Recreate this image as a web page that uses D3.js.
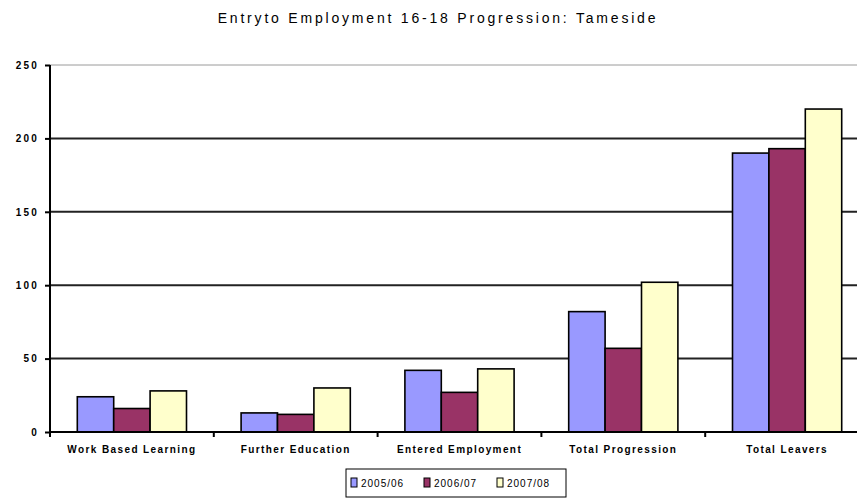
<!DOCTYPE html>
<html>
<head>
<meta charset="utf-8">
<script src="https://cdn.jsdelivr.net/npm/d3@7"></script>
<style>
  body { margin: 0; background: #fff; }
  svg { display: block; font-family: "Liberation Sans", Arial, sans-serif; }
</style>
</head>
<body>
<div id="chart"></div>
<script>
// data
var categories = ["Work Based Learning", "Further Education", "Entered Employment", "Total Progression", "Total Leavers"];
var seriesNames = ["2005/06", "2006/07", "2007/08"];
var values0506 = [24, 13, 42, 82, 190];
var values0607 = [16, 12, 27, 57, 193];
var values0708 = [28, 30, 43, 102, 220];
var seriesColors = ["#9999ff", "#993366", "#ffffcc"];
var yTicks = [0, 50, 100, 150, 200, 250];

var allSeries = [values0506, values0607, values0708];

var width = 857, height = 500;
var margin = { top: 65, right: -12, bottom: 68, left: 50 };
var plotW = width - margin.left - margin.right,
    plotH = height - margin.top - margin.bottom;

var svg = d3.select("#chart")
  .append("svg")
  .attr("width", width)
  .attr("height", height);

// title
svg.append("text")
  .attr("x", 438)
  .attr("y", 23)
  .attr("text-anchor", "middle")
  .style("font-size", "14px")
  .style("letter-spacing", "2.8px")
  .style("fill", "#000")
  .text("Entryto Employment 16-18 Progression: Tameside");

var g = svg.append("g")
  .attr("transform", "translate(" + margin.left + "," + margin.top + ")");

var x0 = d3.scaleBand()
  .domain(categories)
  .range([0, plotW])
  .padding(0);

// excel style gap width 150%: bar = band / 4.5
var barW = x0.bandwidth() / 4.5;
var x1 = d3.scaleBand()
  .domain(d3.range(seriesNames.length))
  .range([barW * 0.75, barW * 3.75])
  .padding(0);

var y = d3.scaleLinear()
  .domain([0, 250])
  .range([plotH, 0]);

// gridlines
g.selectAll(".grid")
  .data(yTicks.filter(function(d) { return d > 0; }))
  .enter()
  .append("line")
  .attr("class", "grid")
  .attr("x1", 0)
  .attr("x2", plotW)
  .attr("y1", function(d) { return y(d); })
  .attr("y2", function(d) { return y(d); })
  .attr("stroke", function(d) { return d == 250 ? "#9a9a9a" : "#222"; })
  .attr("stroke-width", function(d) { return d == 250 ? 1 : 2; });

// bars
var rows = categories.map(function(c, i) {
  return allSeries.map(function(s, j) { return { cat: c, s: j, value: s[i] }; });
});

g.selectAll(".group")
  .data(rows)
  .enter()
  .append("g")
  .attr("class", "group")
  .attr("transform", function(d, i) { return "translate(" + x0(categories[i]) + ",0)"; })
  .selectAll("rect")
  .data(function(d) { return d; })
  .enter()
  .append("rect")
  .attr("x", function(d) { return x1(d.s); })
  .attr("y", function(d) { return y(d.value); })
  .attr("width", x1.bandwidth())
  .attr("height", function(d) { return plotH - y(d.value); })
  .attr("fill", function(d) { return seriesColors[d.s]; })
  .attr("stroke", "#000")
  .attr("stroke-width", 1.6);

// y axis
var yAxis = g.append("g")
  .call(d3.axisLeft(y).tickValues(yTicks).tickSize(5).tickPadding(6));
yAxis.select(".domain").attr("stroke", "#000").attr("stroke-width", 2)
  .attr("d", "M0," + y(250) + "V" + (plotH + 5));
yAxis.selectAll(".tick line").attr("stroke", "#000").attr("stroke-width", 2);
yAxis.selectAll("text")
  .style("font-size", "10px")
  .style("font-weight", "bold")
  .style("letter-spacing", "2.2px")
  .style("font-family", "Liberation Sans, Arial, sans-serif")
  .attr("fill", "#000");

// x axis with ticks at category boundaries
var xAxis = g.append("g")
  .attr("transform", "translate(0," + plotH + ")")
  .call(d3.axisBottom(x0).tickSize(0).tickPadding(14));
xAxis.select(".domain").attr("stroke", "#000").attr("stroke-width", 2)
  .attr("d", "M0,0H" + plotW);
xAxis.selectAll("text")
  .style("font-size", "10px")
  .style("font-weight", "bold")
  .style("letter-spacing", "1.4px")
  .style("font-family", "Liberation Sans, Arial, sans-serif")
  .attr("fill", "#000");
xAxis.selectAll(".sep")
  .data(categories.slice(1))
  .enter()
  .append("line")
  .attr("class", "sep")
  .attr("x1", function(d) { return x0(d); })
  .attr("x2", function(d) { return x0(d); })
  .attr("y1", 0)
  .attr("y2", 5)
  .attr("stroke", "#000")
  .attr("stroke-width", 2);

// legend
var legend = svg.append("g")
  .attr("transform", "translate(346,469)");
legend.append("rect")
  .attr("width", 220)
  .attr("height", 28)
  .attr("fill", "#fff")
  .attr("stroke", "#000")
  .attr("stroke-width", 1);
var item = legend.selectAll(".item")
  .data(seriesNames)
  .enter()
  .append("g")
  .attr("class", "item")
  .attr("transform", function(d, i) { return "translate(" + (5 + i * 73) + ",9)"; });
item.append("rect")
  .attr("width", 6)
  .attr("height", 9)
  .attr("fill", function(d, i) { return seriesColors[i]; })
  .attr("stroke", "#000")
  .attr("stroke-width", 1);
item.append("text")
  .attr("x", 10)
  .attr("y", 9)
  .style("font-size", "10px")
  .style("letter-spacing", "1px")
  .text(function(d) { return d; });
</script>
</body>
</html>
